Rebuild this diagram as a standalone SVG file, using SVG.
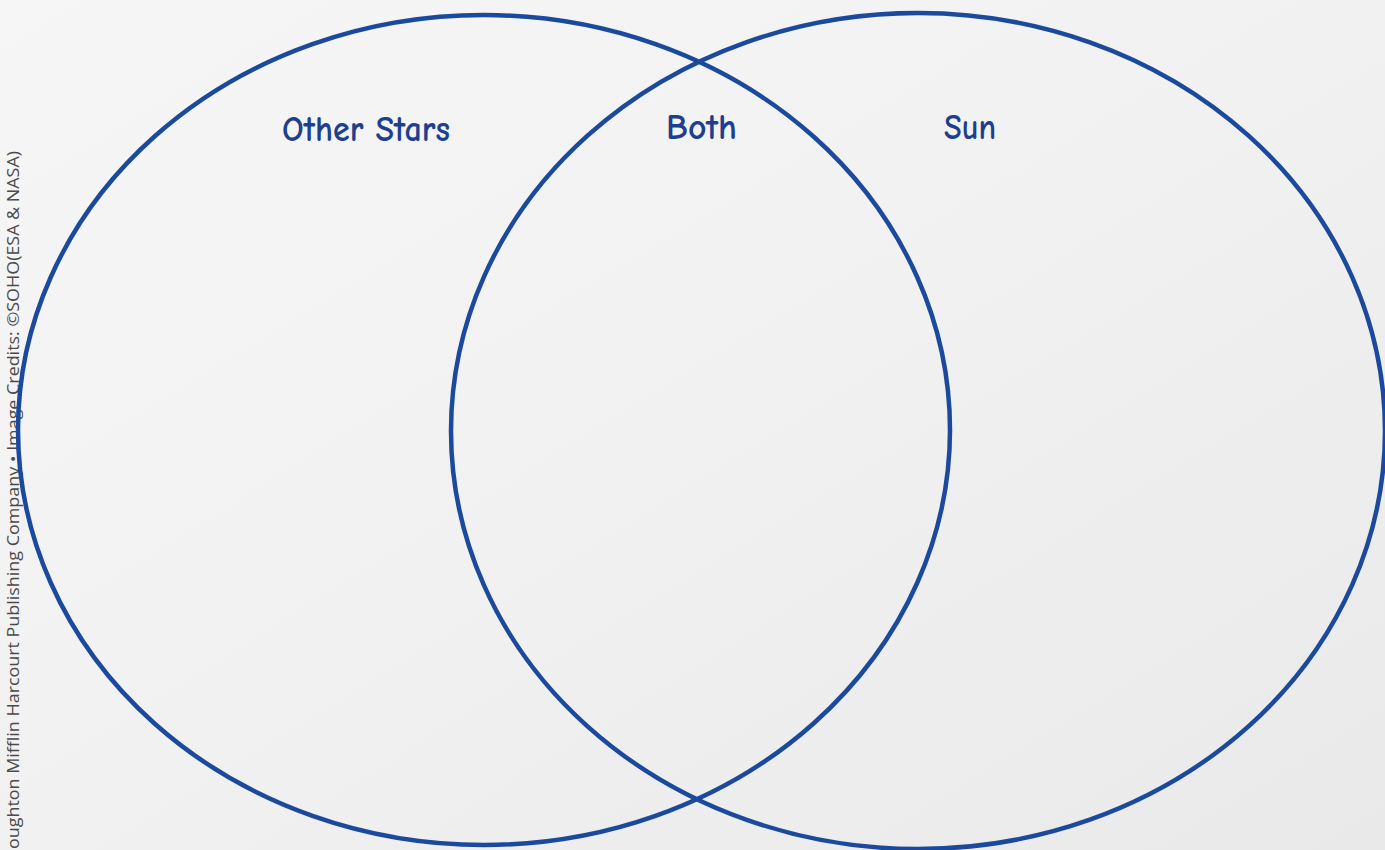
<svg xmlns="http://www.w3.org/2000/svg" width="1385" height="850" viewBox="0 0 1385 850">
<defs>
<linearGradient id="bg" x1="0" y1="0" x2="1" y2="1">
<stop offset="0" stop-color="#f6f6f6"/>
<stop offset="0.5" stop-color="#f1f1f1"/>
<stop offset="1" stop-color="#e9e9e9"/>
</linearGradient>
<style>
.ring{fill:none;stroke:#1b4a9c;stroke-width:4.5}
.lbl{font-family:"Comic Neue","Lato","Noto Sans",sans-serif;font-size:37px;font-weight:bold;fill:#1d3f8e}
.credit{font-family:"Open Sans","Noto Sans",sans-serif;font-size:17px;fill:#4a4a4a}
</style>
</defs>
<rect width="1385" height="850" fill="url(#bg)"/>
<text class="credit" transform="translate(19,849) rotate(-90)" textLength="698" lengthAdjust="spacingAndGlyphs">oughton Mifflin Harcourt Publishing Company • Image Credits: ©SOHO(ESA &amp; NASA)</text>
<g id="connectors"></g>
<g id="other-stars">
<ellipse class="ring" cx="484" cy="430" rx="466" ry="415"/>
<text class="lbl" x="282" y="141" textLength="168" lengthAdjust="spacingAndGlyphs">Other Stars</text>
</g>
<g id="both">
<text class="lbl" x="666" y="139" textLength="71" lengthAdjust="spacingAndGlyphs">Both</text>
</g>
<g id="sun">
<ellipse class="ring" cx="918" cy="431" rx="467" ry="418"/>
<text class="lbl" x="944" y="139" textLength="52" lengthAdjust="spacingAndGlyphs">Sun</text>
</g>
</svg>
